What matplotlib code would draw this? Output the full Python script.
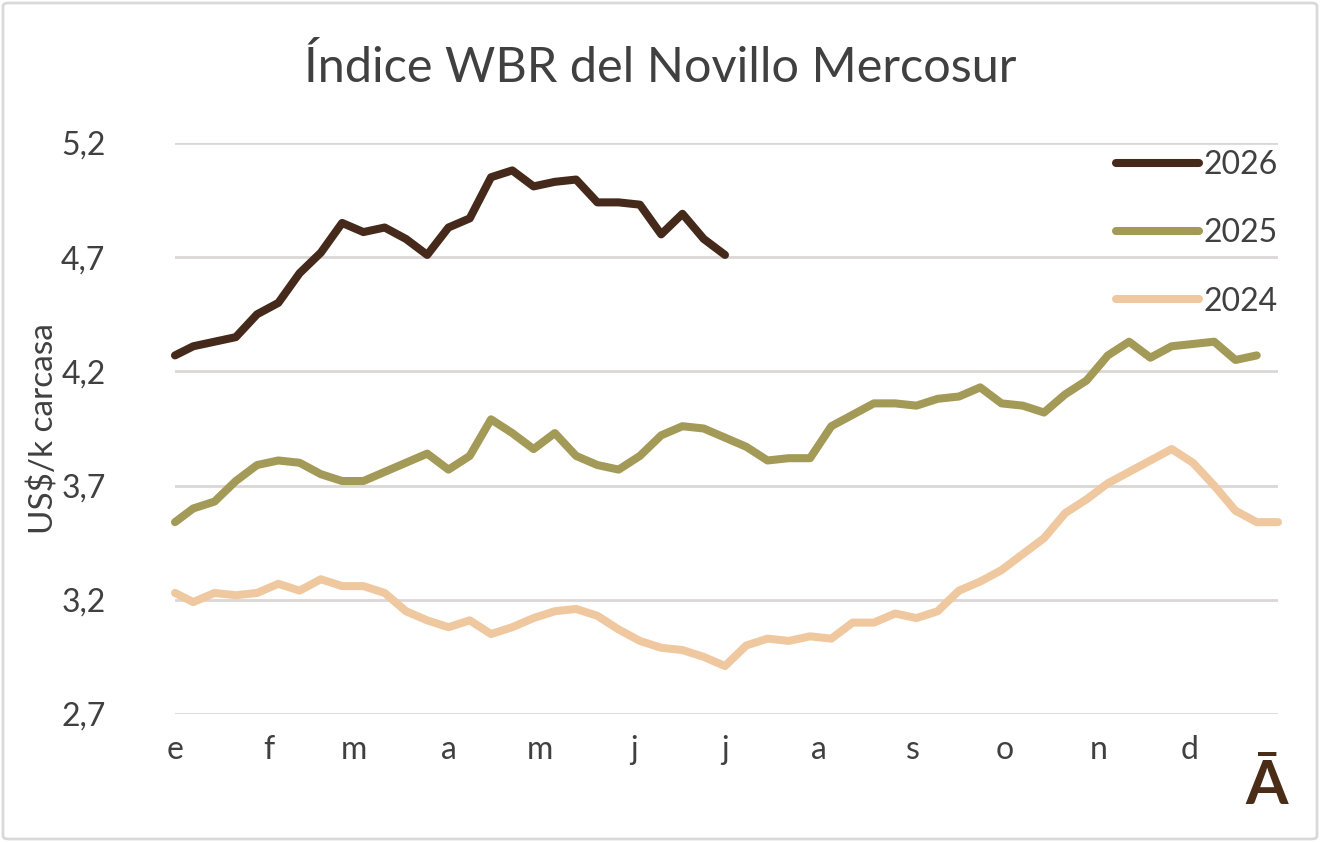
import numpy as np
import matplotlib.pyplot as plt
from matplotlib.patches import FancyBboxPatch

plt.rcParams['font.family'] = ['Lato', 'DejaVu Sans']

# weekly observations, x = day of the year
week_days = [0] + list(range(6, 364, 7))

idx_2026 = [4.27, 4.31, 4.33, 4.35, 4.45, 4.50, 4.63, 4.72, 4.85, 4.81, 4.83, 4.78, 4.71, 4.83,
            4.87, 5.05, 5.08, 5.01, 5.03, 5.04, 4.94, 4.94, 4.93, 4.80, 4.89, 4.78, 4.71]
idx_2025 = [3.54, 3.60, 3.63, 3.72, 3.79, 3.81, 3.80, 3.75, 3.72, 3.72, 3.76, 3.80, 3.84, 3.77,
            3.83, 3.99, 3.93, 3.86, 3.93, 3.83, 3.79, 3.77, 3.83, 3.92, 3.96, 3.95, 3.91, 3.87,
            3.81, 3.82, 3.82, 3.96, 4.01, 4.06, 4.06, 4.05, 4.08, 4.09, 4.13, 4.06, 4.05, 4.02,
            4.10, 4.16, 4.27, 4.33, 4.26, 4.31, 4.32, 4.33, 4.25, 4.27]
idx_2024 = [3.23, 3.19, 3.23, 3.22, 3.23, 3.27, 3.24, 3.29, 3.26, 3.26, 3.23, 3.15, 3.11, 3.08,
            3.11, 3.05, 3.08, 3.12, 3.15, 3.16, 3.13, 3.07, 3.02, 2.99, 2.98, 2.95, 2.91,
            3.00, 3.03, 3.02, 3.04, 3.03, 3.10, 3.10, 3.14, 3.12, 3.15, 3.24, 3.28, 3.33,
            3.40, 3.47, 3.58, 3.64, 3.71, 3.76, 3.81, 3.86, 3.80, 3.70, 3.59, 3.54, 3.54]

month_days = [0, 31, 59, 90, 120, 151, 181, 212, 243, 273, 304, 334]
month_labels = ['e', 'f', 'm', 'a', 'm', 'j', 'j', 'a', 's', 'o', 'n', 'd']
y_ticks = [2.7, 3.2, 3.7, 4.2, 4.7, 5.2]

series = [('2026', idx_2026, '#45291a'),
          ('2025', idx_2025, '#a39a57'),
          ('2024', idx_2024, '#f0c8a0')]

text_col = '#404040'
grid_col = '#dcd7d7'

fig = plt.figure(figsize=(13.2, 8.42), dpi=100)
ax = fig.add_axes([175 / 1320, 128 / 842, 1103 / 1320, 571 / 842])

for name, vals, col in series:
    ax.plot(week_days[:len(vals)], vals, color=col, lw=5.8, label=name,
            solid_capstyle='round', solid_joinstyle='round', clip_on=False, zorder=3)

ax.set_xlim(0, 363)
ax.set_ylim(2.7, 5.2)
ax.set_yticks(y_ticks)
ax.set_yticklabels([f'{v:.1f}'.replace('.', ',') for v in y_ticks])
ax.set_xticks(month_days)
ax.set_xticklabels(month_labels)
ax.tick_params(axis='y', length=0, pad=50, labelsize=23, labelcolor=text_col)
ax.tick_params(axis='x', length=0, pad=15, labelsize=23, labelcolor=text_col)
ax.grid(axis='y', color=grid_col, lw=2)
ax.grid(axis='x', visible=False)
for s in ax.spines.values():
    s.set_visible(False)

ax.set_ylabel('US$/k carcasa', fontsize=24, color=text_col)
ax.yaxis.set_label_coords(-115 / 1103, 0.5)
fig.text(0.5, 1 - 68 / 842, 'Índice WBR del Novillo Mercosur', ha='center', va='center',
         fontsize=35, color=text_col)

leg = ax.legend(loc='upper right', bbox_to_anchor=(1.0, 1 - 7 / 571), frameon=False, fontsize=23,
                handlelength=2.6, handletextpad=0.15, labelspacing=1.2, borderpad=0,
                borderaxespad=0)
for t in leg.get_texts():
    t.set_color(text_col)

# logo mark
fig.text(1267 / 1320, 1 - 786 / 842, 'Ā', ha='center', va='center', fontsize=44,
         fontweight='bold', color='#4a2c17')

border = FancyBboxPatch((3 / 1320, 3 / 842), 1314 / 1320, 836 / 842,
                        boxstyle='round,pad=0,rounding_size=0.004', transform=fig.transFigure,
                        facecolor='none', edgecolor='#d9d9d9', lw=2)
fig.patches.append(border)

fig.savefig('out.png', dpi=100)
